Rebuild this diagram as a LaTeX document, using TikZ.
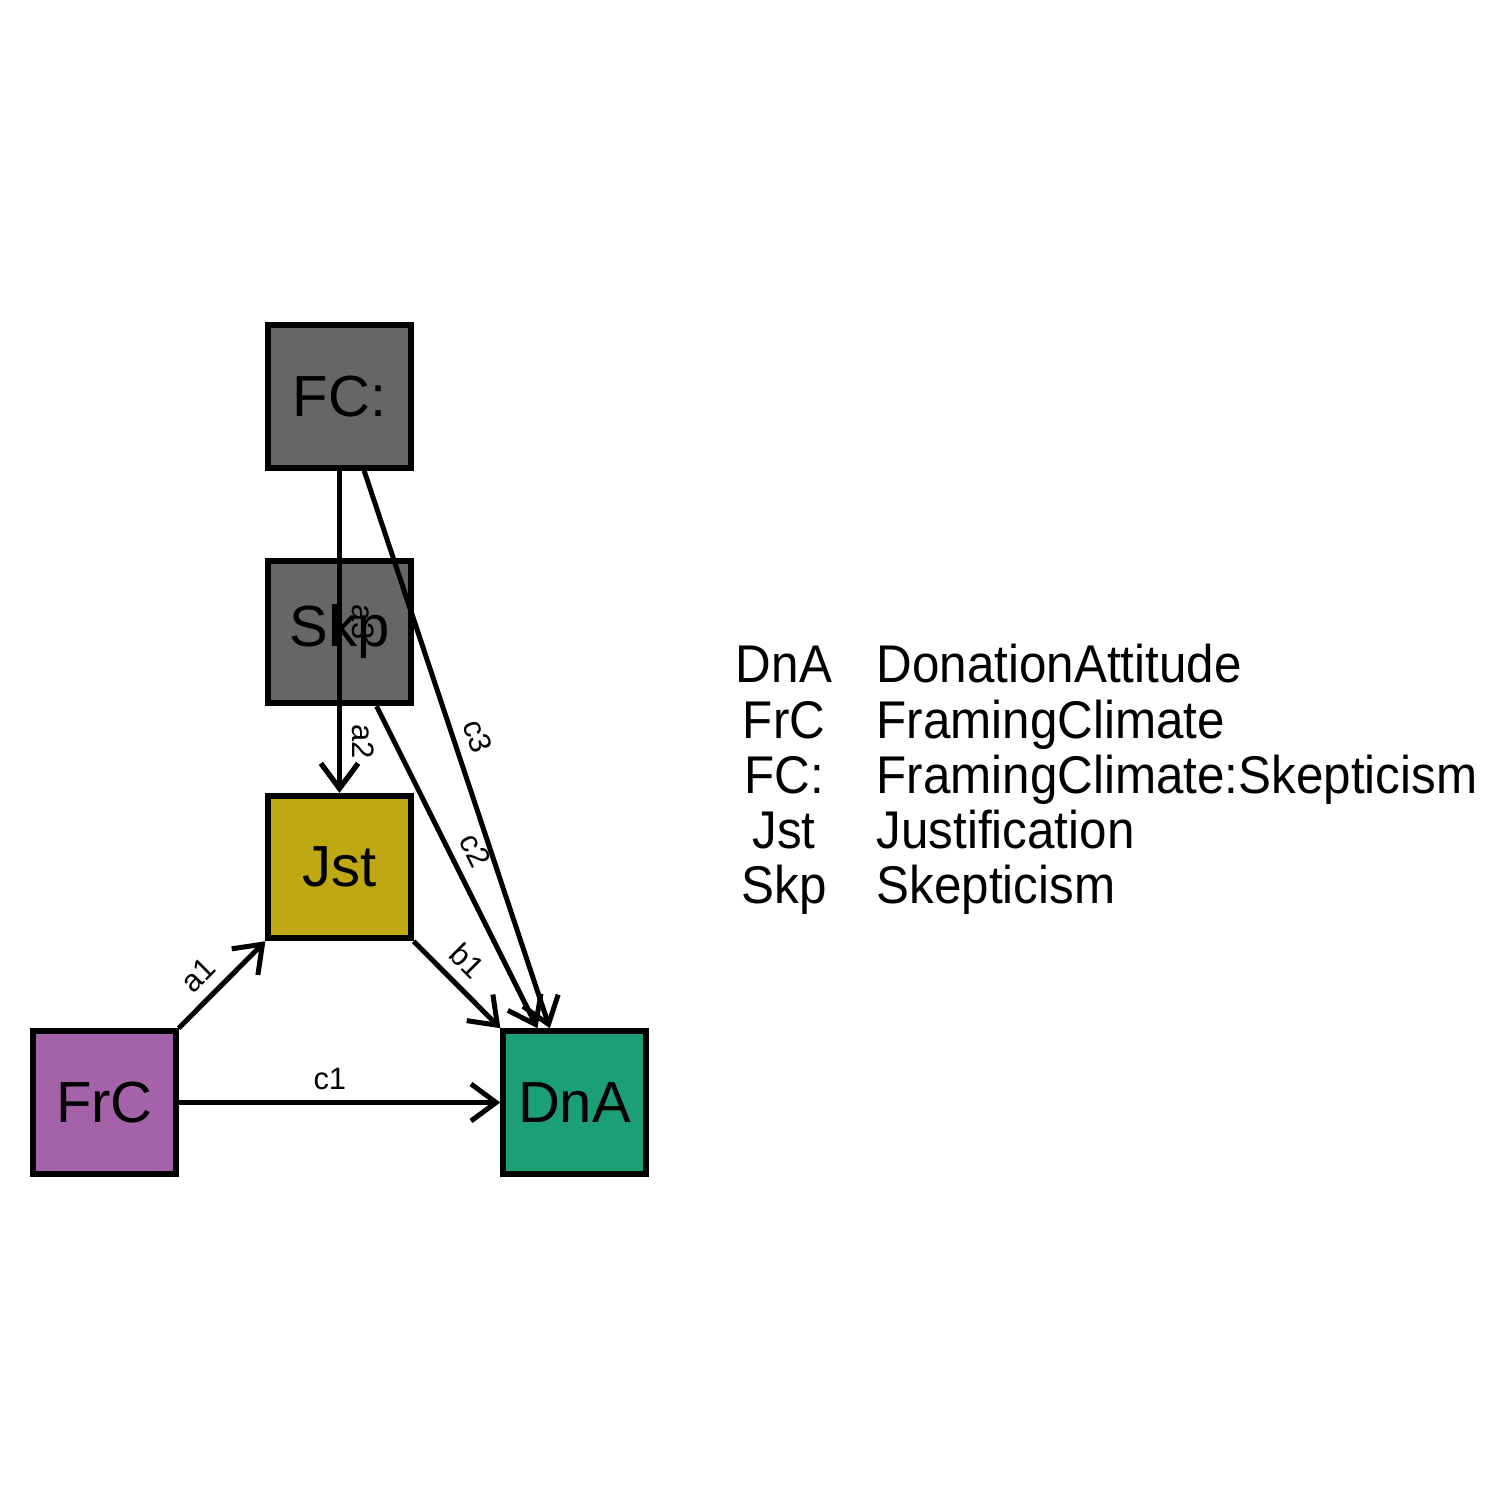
\documentclass[tikz,border=0pt]{standalone}
\usepackage{fontspec}
\setmainfont{Liberation Sans}
\newfontfamily\legfont[FakeStretch=0.93]{Liberation Sans}
\usetikzlibrary{arrows.meta}
\definecolor{cgray}{HTML}{666666}
\definecolor{cpurple}{HTML}{A463A8}
\definecolor{colive}{HTML}{BFA811}
\definecolor{cteal}{HTML}{1C9E77}
\begin{document}
\begin{tikzpicture}[
  var/.style={draw=black, line width=0.06cm, minimum size=1.425cm, inner sep=0pt, font=\fontsize{16.5}{18}\selectfont},
  edge/.style={line width=0.05cm, -{Straight Barb[length=0.25cm, width=0.37cm]}},
  lbl/.style={font=\fontsize{8.8}{10}\selectfont, sloped, allow upside down, above=3pt, inner sep=0pt},
  leg/.style={font=\legfont\fontsize{15.1}{16}\selectfont, inner sep=0pt}]
\fill[white] (0,0) rectangle (15,15);
\useasboundingbox (0,0) rectangle (15,15);
\node[var, fill=cgray] (FC) at (3.395, 11.035) {FC:};
\node[var, fill=cgray] (Skp) at (3.395, 8.68) {Skp};
\node[var, fill=colive] (Jst) at (3.395, 6.33) {Jst};
\node[var, fill=cpurple] (FrC) at (1.045, 3.975) {FrC};
\node[var, fill=cteal] (DnA) at (5.745, 3.975) {DnA};
\draw[edge] (FrC) -- node[lbl, pos=0.42] {a1} (Jst);
\draw[edge] (Jst) -- node[lbl, pos=0.42] {b1} (DnA);
\draw[edge] (FrC) -- node[lbl, pos=0.47] {c1} (DnA);
\draw[edge] (FC) -- node[lbl, pos=0.47] {a3} (Jst);
\draw[edge] (Skp) -- node[lbl, pos=0.41] {a2} (Jst);
\draw[edge] (Skp) -- node[lbl, pos=0.48] {c2} (DnA);
\draw[edge] (FC) -- node[lbl, pos=0.49] {c3} (DnA);
\node[leg, anchor=base] (lDnA) at (7.84, 8.17) {DnA};
\node[leg, anchor=base west] (nDnA) at (8.76, 8.17) {DonationAttitude};
\node[leg, anchor=base] (lFrC) at (7.84, 7.6175) {FrC};
\node[leg, anchor=base west] (nFrC) at (8.76, 7.6175) {FramingClimate};
\node[leg, anchor=base] (lFC) at (7.84, 7.065) {FC:};
\node[leg, anchor=base west] (nFC) at (8.76, 7.065) {FramingClimate:Skepticism};
\node[leg, anchor=base] (lJst) at (7.84, 6.5125) {Jst};
\node[leg, anchor=base west] (nJst) at (8.76, 6.5125) {Justification};
\node[leg, anchor=base] (lSkp) at (7.84, 5.96) {Skp};
\node[leg, anchor=base west] (nSkp) at (8.76, 5.96) {Skepticism};
\end{tikzpicture}
\end{document}
